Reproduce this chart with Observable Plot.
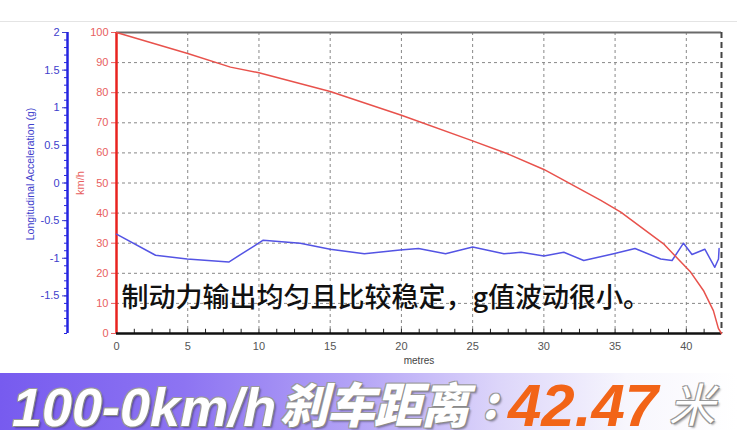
<!DOCTYPE html>
<html><head><meta charset="utf-8">
<script src="https://cdn.jsdelivr.net/npm/d3@7"></script>
<script src="https://cdn.jsdelivr.net/npm/@observablehq/plot@0.6"></script>
<style>
body{margin:0;background:#fff;}
#wrap{position:relative;width:737px;height:430px;overflow:hidden;font-family:"Liberation Sans",Arial,sans-serif;}
#topline{position:absolute;left:0;top:21px;width:737px;height:0;border-top:1px solid #e4e4e4;}
#chart{position:absolute;left:0;top:0;}
#banner{position:absolute;left:0;top:373px;width:737px;height:57px;
 background:linear-gradient(to right,#775bef 0%,#8d74f2 25%,#b3a3f6 48%,#ddd6fa 68%,#f7f6fd 85%,#ffffff 100%);}
.b{position:absolute;line-height:0.8;white-space:nowrap;font-weight:bold;font-style:italic;}
.w{color:#fff;text-shadow:1px 1px 0 #8a8a8a,-1px -1px 0 #9a9a9a,1px -1px 0 #9a9a9a,-1px 1px 0 #9a9a9a,2px 2px 2px rgba(0,0,0,.35);}
.cjk{font-family:"Noto Sans CJK SC",sans-serif;font-weight:900;}
.o{color:#f26417;}
</style></head>
<body>
<div id="wrap">
 <div id="topline"></div>
 <div id="chart"></div>
 <div id="banner">
  <span class="b w" style="left:12px;top:13px;font-size:54px;">100-0km/h</span>
  <span class="b w cjk" style="left:280px;top:10px;font-size:48px;letter-spacing:-1px;">刹车距离</span>
  <span class="b w cjk" style="left:482px;top:10px;font-size:44px;">:</span>
  <span class="b o" style="left:508px;top:9px;font-size:60px;">42.47</span>
  <span class="b w cjk" style="left:669px;top:11px;font-size:46px;font-weight:400;">米</span>
 </div>
</div>
<script>
// Speed curve (km/h vs metres)
const speedDist = [0, 2.5, 5, 8.0, 10, 15, 20, 25, 27.4, 30, 34, 35.4, 38.4, 40.3, 41.2, 41.9, 42.25, 42.47];
const speedKmh  = [100, 96.5, 93, 88.5, 86.6, 80.4, 72.5, 64, 59.8, 54.5, 44.2, 40.3, 29.8, 20.4, 14.3, 7.6, 1.7, 0];
// Longitudinal acceleration (g vs metres)
const accelDist = [0, 2.74, 4.96, 7.88, 10.3, 12.9, 15.0, 17.4, 19.9, 21.2, 23.1, 25.0, 27.2, 28.4, 30.0, 31.4, 32.8, 34.9, 36.4, 38.2, 39.0, 39.8, 40.4, 41.3, 42.0, 42.26, 42.3];
const accelG    = [-0.68, -0.96, -1.01, -1.05, -0.76, -0.80, -0.88, -0.94, -0.89, -0.87, -0.94, -0.85, -0.94, -0.92, -0.97, -0.92, -1.03, -0.94, -0.87, -1.01, -1.03, -0.80, -0.95, -0.88, -1.12, -1.01, -0.87];
// Axes
const xMax = 42.47;
const xTicks = [0, 5, 10, 15, 20, 25, 30, 35, 40];
const xMinor = d3.range(0, 42.3, 1.25);
const speedTicks = [0, 10, 20, 30, 40, 50, 60, 70, 80, 90, 100];
const gTicks = [-1.5, -1, -0.5, 0, 0.5, 1, 1.5, 2];
const gMinor = d3.range(-20, 21).map(i => i / 10);
const gDomain = [-2, 2];
// Texts
const xLabel = "metres";
const speedLabel = "km/h";
const gLabel = "Longitudinal Acceleration (g)";
const note = "制动力输出均匀且比较稳定，g值波动很小。";

const speedData = speedDist.map((d, i) => ({d, v: speedKmh[i]}));
const accelData = accelDist.map((d, i) => ({d, g: accelG[i]}));
// map g onto the km/h scale (shared vertical extent)
const gToK = g => (g - gDomain[0]) / (gDomain[1] - gDomain[0]) * 100;
const kToG = k => gDomain[0] + k / 100 * (gDomain[1] - gDomain[0]);

const red = "#e8231f", redTxt = "#e86060", blue = "#2424e0", blueTxt = "#4040cc";

const chart = Plot.plot({
  width: 737, height: 373,
  marginLeft: 116, marginRight: 16, marginTop: 32, marginBottom: 40,
  x: {domain: [0, xMax]},
  y: {domain: [0, 100]},
  style: {fontFamily: "Liberation Sans, Arial, sans-serif", background: "transparent", overflow: "visible"},
  marks: [
    Plot.gridX(xTicks.filter(t => t > 0), {stroke: "#888", strokeOpacity: 1, strokeDasharray: "3,3"}),
    Plot.gridY(speedTicks.filter(t => t > 0 && t < 100), {stroke: "#888", strokeOpacity: 1, strokeDasharray: "3,3"}),
    Plot.ruleY([100], {stroke: "#6a6a6a", strokeWidth: 2}),
    Plot.ruleX([xMax], {stroke: "#444", strokeWidth: 2, strokeDasharray: "6,4"}),
    Plot.ruleX(xMinor, {y1: 0, y2: 1.4, stroke: "#222"}),
    Plot.axisX(xTicks, {anchor: "bottom", tickSize: 0, tickPadding: 9, color: "#555", fontSize: 11, label: null}),
    Plot.text([xLabel], {frameAnchor: "bottom", dy: 30, fill: "#444", fontSize: 10}),
    // red speed axis
    Plot.axisY(speedTicks, {anchor: "left", tickSize: 5, tickPadding: 3, color: redTxt, fontSize: 11, label: null}),
    Plot.ruleX([0], {stroke: red, strokeWidth: 2.5}),
    Plot.text([speedLabel], {frameAnchor: "left", textAnchor: "middle", dx: -36, rotate: -90, fill: redTxt, fontSize: 11}),
    // blue acceleration axis
    Plot.axisY(gMinor.map(gToK), {anchor: "left", dx: -49, tickSize: 3, color: blue, tickFormat: () => "", label: null}),
    Plot.axisY(gTicks.map(gToK), {anchor: "left", dx: -49, tickSize: 5, tickPadding: 3, color: blueTxt, fontSize: 11, label: null,
      tickFormat: k => String(Math.round(kToG(k) * 10) / 10)}),
    Plot.ruleX([0], {dx: -49, stroke: blue, strokeWidth: 2.5}),
    Plot.text([gLabel], {frameAnchor: "left", textAnchor: "middle", dx: -86, dy: -9, rotate: -90, fill: blueTxt, fontSize: 10.5}),
    Plot.ruleY([0], {stroke: "#111", strokeWidth: 2.5}),
    // data
    Plot.line(accelData, {x: "d", y: d => gToK(d.g), stroke: "#5454e4", strokeWidth: 1.5}),
    Plot.line(speedData, {x: "d", y: "v", stroke: "#e8524c", strokeWidth: 1.5}),
    // annotation
    Plot.text([note], {frameAnchor: "bottom-left", dx: 5, dy: -27, textAnchor: "start", fontSize: 27, fontWeight: 500,
      fontFamily: "Noto Sans CJK SC, sans-serif", fill: "#111"})
  ]
});
document.getElementById("chart").appendChild(chart);
</script>
</body></html>
